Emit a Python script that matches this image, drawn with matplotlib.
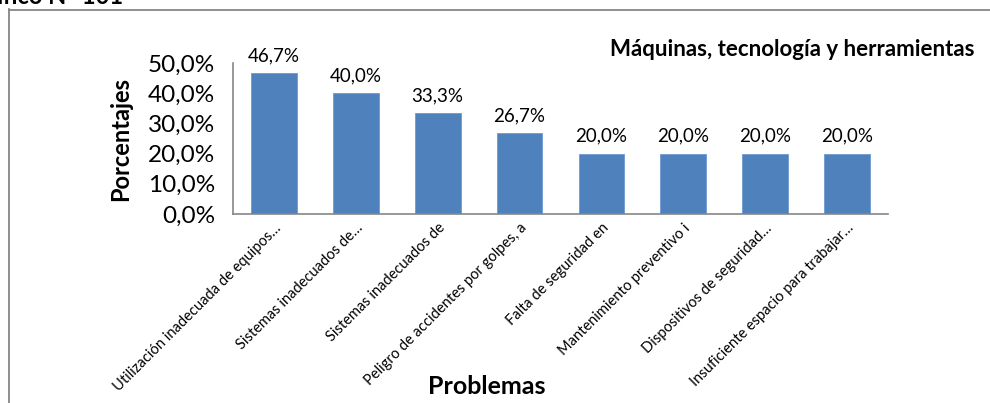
import matplotlib
matplotlib.use("Agg")
import matplotlib.pyplot as plt
from matplotlib.lines import Line2D

plt.rcParams['font.family'] = ['Lato', 'DejaVu Sans']

# datos del grafico
problemas = [
    "Utilización inadecuada de equipos…",
    "Sistemas inadecuados de…",
    "Sistemas inadecuados de",
    "Peligro de accidentes por golpes, a",
    "Falta de seguridad en",
    "Mantenimiento preventivo i",
    "Dispositivos de seguridad…",
    "Insuficiente espacio para trabajar…",
]
porcentajes = [46.7, 40.0, 33.3, 26.7, 20.0, 20.0, 20.0, 20.0]
yticks = [0, 10, 20, 30, 40, 50]

W, H = 990, 403
fig = plt.figure(figsize=(W / 100, H / 100), dpi=100)
ax = fig.add_axes([233 / W, 1 - 214 / H, (888 - 233) / W, (214 - 63) / H])

x = list(range(len(problemas)))
ax.bar(x, porcentajes, width=0.56, color='#4F81BD', edgecolor='#6f9ad0', linewidth=0.6)

for xi, v in zip(x, porcentajes):
    ax.text(xi, v + 3.0, f"{v:.1f}%".replace('.', ','), ha='center', va='bottom', fontsize=13.5)

ax.set_xlim(-0.5, len(problemas) - 0.5)
ax.set_ylim(0, 50)
ax.set_yticks(yticks)
ax.set_yticklabels([f"{t:.1f}%".replace('.', ',') for t in yticks], fontsize=17.5)
ax.set_xticks(x)
ax.set_xticklabels(problemas, rotation=45, ha='right', rotation_mode='anchor', fontsize=10.5)
ax.tick_params(axis='both', length=0)
ax.tick_params(axis='x', pad=5)
ax.tick_params(axis='y', pad=13)

for s in ['top', 'right']:
    ax.spines[s].set_visible(False)
for s in ['left', 'bottom']:
    ax.spines[s].set_color('#868686')
    ax.spines[s].set_linewidth(1.2)

fig.text(121 / W, 1 - 139 / H, "Porcentajes", rotation=90, ha='center', va='center',
         fontsize=17, fontweight='bold')
fig.text(487 / W, 1 - 386 / H, "Problemas", ha='center', va='center',
         fontsize=18, fontweight='bold')
fig.text(975 / W, 1 - 50 / H, "Máquinas, tecnología y herramientas", ha='right', va='center',
         fontsize=16, fontweight='bold')
fig.text(123 / W, 1 - 3.5 / H, "Gráfico N° 101", ha='right', va='baseline',
         fontsize=17, fontweight='bold')

# marco del grafico
fig.add_artist(Line2D([8.5 / W, 8.5 / W], [0, 1 - 9 / H], color='#868686', lw=1.3))
fig.add_artist(Line2D([8.5 / W, 1], [1 - 9.5 / H, 1 - 9.5 / H], color='#868686', lw=1.3))

fig.savefig("out.png", dpi=100)
